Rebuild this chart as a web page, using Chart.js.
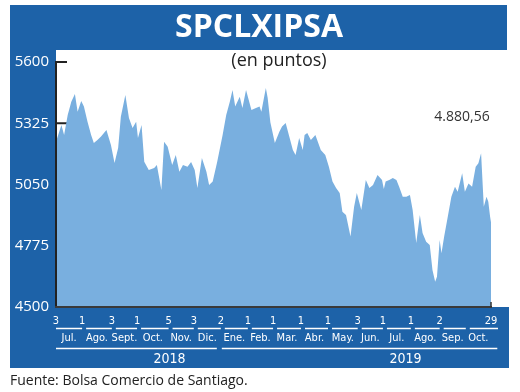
<!DOCTYPE html>
<html><head><meta charset="utf-8">
<script src="https://cdn.jsdelivr.net/npm/chart.js@4.4.1/dist/chart.umd.min.js"></script>
<style>html,body{margin:0;padding:0;background:#fff}canvas{display:block}</style>
</head><body>
<canvas id="c" width="520" height="392"></canvas>
<script>
const titleText = 'SPCLXIPSA';
const subtitleText = '(en puntos)';
const lastValueLabel = '4.880,56';
const sourceText = 'Fuente: Bolsa Comercio de Santiago.';

// x = days since 3 Jul 2018, y = index points
const days = [0,6,9,13,17,21,24,28,31,35,39,42,46,50,56,61,65,69,72,77,81,85,89,91,95,98,103,109,112,117,120,124,129,133,137,141,146,150,154,157,162,167,170,174,179,185,189,193,196,199,204,207,211,217,222,226,228,233,235,238,243,248,251,255,259,263,266,270,274,276,279,283,288,294,299,303,307,311,315,318,322,327,331,334,339,344,348,352,357,362,364,366,370,374,378,381,385,389,393,396,400,404,407,411,415,418,421,423,426,428,431,435,439,443,446,451,454,458,462,466,469,472,475,478,480,482,483];
const values = [5242,5317,5272,5362,5422,5456,5377,5425,5400,5332,5272,5236,5250,5265,5295,5227,5146,5214,5354,5452,5349,5304,5332,5259,5317,5152,5115,5124,5138,5025,5242,5220,5138,5182,5107,5138,5130,5151,5115,5034,5169,5107,5048,5063,5152,5272,5362,5422,5474,5400,5444,5393,5474,5384,5393,5400,5377,5483,5440,5330,5236,5287,5310,5326,5265,5205,5182,5259,5205,5272,5281,5250,5272,5205,5182,5130,5063,5034,5012,4928,4913,4816,4950,5012,4935,5070,5034,5048,5093,5070,5030,5063,5070,5079,5070,5040,4995,4995,5003,4935,4787,4913,4832,4793,4778,4666,4613,4636,4801,4741,4816,4905,4995,5040,5018,5100,5018,5055,5040,5130,5145,5190,4950,4995,4973,4905,4881];

const yTicks = [4500, 4775, 5050, 5325, 5600];
const dayTickValues = [0,29,62,90,125,153,183,213,241,272,302,335,363,394,426,483];
const dayTickLabels = ['3','1','3','1','5','3','2','1','1','1','1','3','1','1','2','29'];
const monthBounds = [0,29,62,90,125,153,183,213,241,272,302,335,363,394,426,455,483];
const monthLabels = ['Jul.','Ago.','Sept.','Oct.','Nov.','Dic.','Ene.','Feb.','Mar.','Abr.','May.','Jun.','Jul.','Ago.','Sep.','Oct.'];
const yearBounds = [0,183,490];
const yearLabels = ['2018','2019'];
const yearLabelDays = [126,388];

const BLUE = '#1d62a8';
const AREA = '#79afdf';
const NARROW = "'Liberation Sans Narrow','DejaVu Sans Condensed',sans-serif";

const monthCenters = monthLabels.map((_, i) => (monthBounds[i] + monthBounds[i+1]) / 2);

const deco = {
  id: 'deco',
  beforeDraw(chart) {
    const {ctx, chartArea: a} = chart;
    ctx.save();
    ctx.fillStyle = '#fff';
    ctx.fillRect(0, 0, chart.width, chart.height);
    ctx.fillStyle = BLUE;
    ctx.fillRect(10, 5, 497, 45);
    ctx.fillRect(10, 50, a.left - 10, 318);
    ctx.fillRect(10, a.bottom, 499, 368 - a.bottom);
    ctx.fillStyle = '#fff';
    ctx.font = "bold 32px 'Open Sans', sans-serif";
    ctx.textAlign = 'center';
    ctx.textBaseline = 'middle';
    ctx.fillText(titleText, 259, 28);
    ctx.restore();
  },
  beforeDatasetsDraw(chart) {
    const {ctx, chartArea: a, scales: {y}} = chart;
    ctx.save();
    ctx.strokeStyle = '#222';
    ctx.lineWidth = 2;
    yTicks.forEach(v => {
      const py = y.getPixelForValue(v);
      ctx.beginPath(); ctx.moveTo(a.left, py); ctx.lineTo(a.left + 11, py); ctx.stroke();
    });
    ctx.restore();
  },
  afterDraw(chart) {
    const {ctx, chartArea: a, scales: {x}} = chart;
    ctx.save();
    ctx.fillStyle = '#222';
    ctx.font = "18px 'Open Sans', sans-serif";
    ctx.textAlign = 'center';
    ctx.textBaseline = 'middle';
    ctx.fillText(subtitleText, 279, 61);
    ctx.fillStyle = '#333';
    ctx.font = "14px 'Open Sans', sans-serif";
    ctx.fillText(lastValueLabel, 462, 117);
    ctx.fillStyle = '#222';
    ctx.font = "14px 'Open Sans', sans-serif";
    ctx.textAlign = 'left';
    ctx.fillText(sourceText, 10, 381);
    // end tick
    ctx.strokeStyle = '#333';
    ctx.lineWidth = 1.5;
    const ex = x.getPixelForValue(dayTickValues[dayTickValues.length - 1]);
    ctx.beginPath(); ctx.moveTo(ex, a.bottom); ctx.lineTo(ex, a.bottom - 5); ctx.stroke();
    // underlines
    ctx.strokeStyle = '#fff';
    ctx.lineWidth = 1.5;
    for (let i = 0; i < monthLabels.length; i++) {
      const x0 = x.getPixelForValue(monthBounds[i]) + (i === 0 ? 0 : 4);
      const x1 = i === monthLabels.length - 1 ? x.getPixelForValue(monthBounds[i+1]) + 7 : x.getPixelForValue(monthBounds[i+1]);
      ctx.beginPath(); ctx.moveTo(x0, 328.5); ctx.lineTo(x1, 328.5); ctx.stroke();
    }
    for (let i = 0; i < yearLabels.length; i++) {
      const x0 = x.getPixelForValue(yearBounds[i]) + (i === 0 ? 0 : 1);
      const x1 = x.getPixelForValue(yearBounds[i+1]) - (i === 0 ? 4 : 0);
      ctx.beginPath(); ctx.moveTo(x0, 348.5); ctx.lineTo(x1, 348.5); ctx.stroke();
    }
    ctx.restore();
  }
};

const fixedTicks = (arr) => (scale) => { scale.ticks = arr.map(v => ({value: v})); };

new Chart(document.getElementById('c'), {
  type: 'line',
  data: {
    datasets: [{
      data: days.map((d, i) => ({x: d, y: values[i]})),
      fill: 'start',
      backgroundColor: AREA,
      borderWidth: 0,
      pointRadius: 0,
      tension: 0
    }]
  },
  options: {
    responsive: false,
    animation: false,
    events: [],
    layout: {padding: {left: 10, top: 62, right: 29, bottom: 21}},
    plugins: {legend: {display: false}, tooltip: {enabled: false}, title: {display: false}},
    scales: {
      y: {
        type: 'linear', min: 4500, max: 5600,
        afterBuildTicks: fixedTicks(yTicks),
        afterFit: s => { s.width = 46; },
        grid: {display: false, drawTicks: false},
        border: {display: true, color: '#222', width: 2, z: 1},
        ticks: {color: '#fff', padding: 7, font: {family: "'Open Sans', sans-serif", size: 15}, callback: v => String(v)}
      },
      x: {
        type: 'linear', min: 0, max: 483, weight: 0,
        afterBuildTicks: fixedTicks(dayTickValues),
        afterFit: s => { s.height = 22; },
        grid: {display: false, drawTicks: false},
        border: {display: true, color: '#3a3a3a', width: 2, z: 1},
        ticks: {color: '#fff', padding: 8, autoSkip: false, maxRotation: 0, minRotation: 0,
          font: {family: NARROW, size: 11},
          callback: (v, i) => dayTickLabels[i]}
      },
      xm: {
        type: 'linear', position: 'bottom', min: 0, max: 483, weight: 1,
        afterBuildTicks: fixedTicks(monthCenters),
        afterFit: s => { s.height = 20; },
        grid: {display: false, drawTicks: false},
        border: {display: false},
        ticks: {color: '#fff', padding: 3, autoSkip: false, maxRotation: 0, minRotation: 0,
          font: {family: NARROW, size: 11},
          callback: (v, i) => monthLabels[i]}
      },
      xy: {
        type: 'linear', position: 'bottom', min: 0, max: 483, weight: 2,
        afterBuildTicks: fixedTicks(yearLabelDays),
        afterFit: s => { s.height = 22; },
        grid: {display: false, drawTicks: false},
        border: {display: false},
        ticks: {color: '#fff', padding: 2, autoSkip: false, maxRotation: 0, minRotation: 0,
          font: {family: NARROW, size: 14},
          callback: (v, i) => yearLabels[i]}
      }
    }
  },
  plugins: [deco]
});
</script>
</body></html>
